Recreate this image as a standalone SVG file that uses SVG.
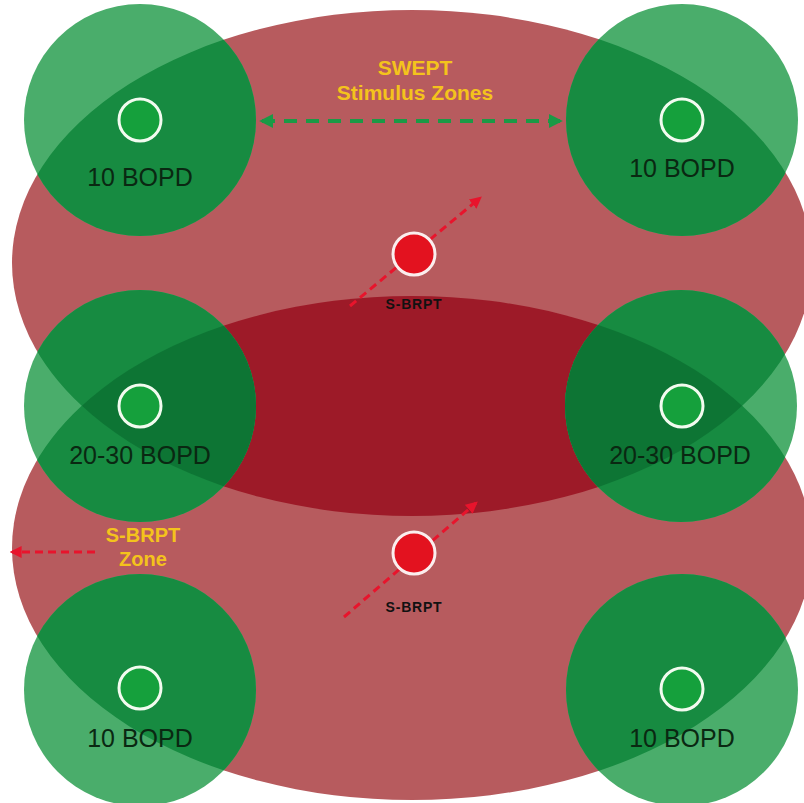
<svg xmlns="http://www.w3.org/2000/svg" width="804" height="803" viewBox="0 0 804 803">
<style>
.pink{fill:#b75b5e}
.lens{fill:#9d1a28}
.gl{fill:#4aad6b}
.gm{fill:#178b41}
.gd{fill:#0d7534}
.dot{fill:#15a03c;stroke:#f2fbef;stroke-width:3}
.rdot{fill:#e3121f;stroke:#fbeeee;stroke-width:3}
.lbl{font-family:"Liberation Sans",Arial,sans-serif;font-size:25px;fill:#0a2812;text-anchor:middle}
.ylw{font-family:"Liberation Sans",Arial,sans-serif;font-weight:bold;fill:#f4c31c;text-anchor:middle}
.sb{font-family:"Liberation Sans",Arial,sans-serif;font-weight:bold;font-size:14px;letter-spacing:0.8px;fill:#111;text-anchor:middle}
.rdash{fill:none;stroke:#e8142c;stroke-width:3;stroke-dasharray:8 5}
.gdash{fill:none;stroke:#1b9a46;stroke-width:4;stroke-dasharray:13 9}
</style>
<defs>
<clipPath id="cu"><ellipse cx="412" cy="263" rx="400" ry="253"/></clipPath>
<clipPath id="cun"><ellipse cx="412" cy="263" rx="400" ry="253"/><ellipse cx="412" cy="548" rx="400" ry="252"/></clipPath>
<clipPath id="ci"><ellipse cx="412" cy="548" rx="400" ry="252" clip-path="url(#cu)"/></clipPath>
<marker id="ar" viewBox="0 0 10 10" refX="8" refY="5" markerWidth="4" markerHeight="4" orient="auto-start-reverse" markerUnits="strokeWidth"><path d="M0,0 L10,5 L0,10 z" fill="#e8142c"/></marker>
<marker id="ag" viewBox="0 0 10 10" refX="8" refY="5" markerWidth="3.5" markerHeight="3.5" orient="auto-start-reverse" markerUnits="strokeWidth"><path d="M0,0 L10,5 L0,10 z" fill="#1b9a46"/></marker>
</defs>
<rect width="804" height="803" fill="#ffffff"/>
<g id="zones">
<ellipse class="pink" cx="412" cy="263" rx="400" ry="253"/>
<ellipse class="pink" cx="412" cy="548" rx="400" ry="252"/>
<ellipse class="lens" cx="412" cy="548" rx="400" ry="252" clip-path="url(#cu)"/>
</g>
<g id="well-tl">
<circle class="gl" cx="140" cy="120" r="116"/>
<circle class="gm" cx="140" cy="120" r="116" clip-path="url(#cun)"/>
<circle class="gd" cx="140" cy="120" r="116" clip-path="url(#ci)"/>
<circle class="dot" cx="140" cy="120" r="21"/>
<text class="lbl" x="140" y="186">10 BOPD</text>
</g>
<g id="well-tr">
<circle class="gl" cx="682" cy="120" r="116"/>
<circle class="gm" cx="682" cy="120" r="116" clip-path="url(#cun)"/>
<circle class="gd" cx="682" cy="120" r="116" clip-path="url(#ci)"/>
<circle class="dot" cx="682" cy="120" r="21"/>
<text class="lbl" x="682" y="177">10 BOPD</text>
</g>
<g id="well-ml">
<circle class="gl" cx="140" cy="406" r="116"/>
<circle class="gm" cx="140" cy="406" r="116" clip-path="url(#cun)"/>
<circle class="gd" cx="140" cy="406" r="116" clip-path="url(#ci)"/>
<circle class="dot" cx="140" cy="406" r="21"/>
<text class="lbl" x="140" y="464">20-30 BOPD</text>
</g>
<g id="well-mr">
<circle class="gl" cx="681" cy="406" r="116"/>
<circle class="gm" cx="681" cy="406" r="116" clip-path="url(#cun)"/>
<circle class="gd" cx="681" cy="406" r="116" clip-path="url(#ci)"/>
<circle class="dot" cx="682" cy="406" r="21"/>
<text class="lbl" x="680" y="464">20-30 BOPD</text>
</g>
<g id="well-bl">
<circle class="gl" cx="140" cy="690" r="116"/>
<circle class="gm" cx="140" cy="690" r="116" clip-path="url(#cun)"/>
<circle class="gd" cx="140" cy="690" r="116" clip-path="url(#ci)"/>
<circle class="dot" cx="140" cy="688" r="21"/>
<text class="lbl" x="140" y="747">10 BOPD</text>
</g>
<g id="well-br">
<circle class="gl" cx="682" cy="690" r="116"/>
<circle class="gm" cx="682" cy="690" r="116" clip-path="url(#cun)"/>
<circle class="gd" cx="682" cy="690" r="116" clip-path="url(#ci)"/>
<circle class="dot" cx="682" cy="689" r="21"/>
<text class="lbl" x="682" y="747">10 BOPD</text>
</g>
<g id="connectors">
<line class="gdash" x1="262" y1="121" x2="560" y2="121" marker-start="url(#ag)" marker-end="url(#ag)"/>
<line class="rdash" x1="350" y1="306" x2="480" y2="198" marker-end="url(#ar)"/>
<line class="rdash" x1="344" y1="617" x2="476" y2="503" marker-end="url(#ar)"/>
<line class="rdash" x1="95" y1="552" x2="12" y2="552" marker-end="url(#ar)"/>
</g>
<g id="brpt-upper">
<circle class="rdot" cx="414" cy="254" r="21"/>
<text class="sb" x="414" y="309">S-BRPT</text>
</g>
<g id="brpt-lower">
<circle class="rdot" cx="414" cy="553" r="21"/>
<text class="sb" x="414" y="612">S-BRPT</text>
</g>
<g id="label-swept">
<text class="ylw" font-size="21" x="415" y="75">SWEPT</text>
<text class="ylw" font-size="21" x="415" y="100">Stimulus Zones</text>
</g>
<g id="label-sbrpt-zone">
<text class="ylw" font-size="20" x="143" y="542">S-BRPT</text>
<text class="ylw" font-size="20" x="143" y="566">Zone</text>
</g>
</svg>
